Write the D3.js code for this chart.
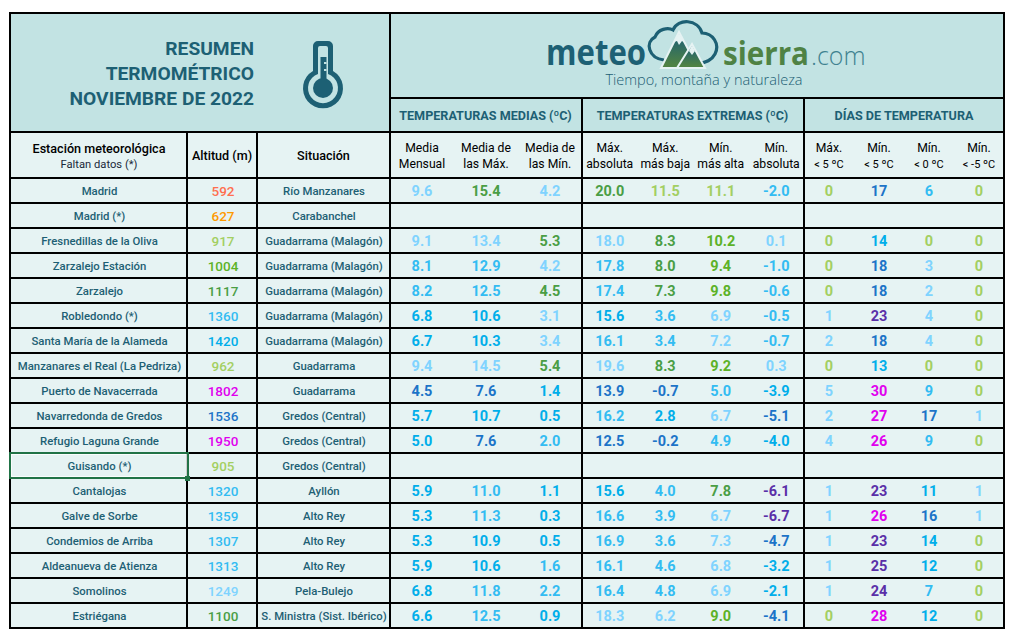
<!DOCTYPE html>
<html lang="es">
<head>
<meta charset="utf-8">
<title>Resumen termométrico noviembre 2022</title>
<script src="https://cdn.jsdelivr.net/npm/d3@7"></script>
<style>
  html, body { margin: 0; padding: 0; background: #fff; }
  svg { display: block; }
  text { font-family: Roboto, sans-serif; }
</style>
</head>
<body>
<div id="chart"></div>
<script>
// Data (null = no data for that station)
const stations = ["Madrid", "Madrid (*)", "Fresnedillas de la Oliva", "Zarzalejo Estación", "Zarzalejo", "Robledondo (*)",
  "Santa María de la Alameda", "Manzanares el Real (La Pedriza)", "Puerto de Navacerrada", "Navarredonda de Gredos",
  "Refugio Laguna Grande", "Guisando (*)", "Cantalojas", "Galve de Sorbe", "Condemios de Arriba", "Aldeanueva de Atienza",
  "Somolinos", "Estriégana"];
const altitudes = [592, 627, 917, 1004, 1117, 1360, 1420, 962, 1802, 1536, 1950, 905, 1320, 1359, 1307, 1313, 1249, 1100];
const zones = ["Río Manzanares", "Carabanchel", "Guadarrama (Malagón)", "Guadarrama (Malagón)", "Guadarrama (Malagón)",
  "Guadarrama (Malagón)", "Guadarrama (Malagón)", "Guadarrama", "Guadarrama", "Gredos (Central)", "Gredos (Central)",
  "Gredos (Central)", "Ayllón", "Alto Rey", "Alto Rey", "Alto Rey", "Pela-Bulejo", "S. Ministra (Sist. Ibérico)"];

const mediaMensual = [9.6, null, 9.1, 8.1, 8.2, 6.8, 6.7, 9.4, 4.5, 5.7, 5.0, null, 5.9, 5.3, 5.3, 5.9, 6.8, 6.6];
const mediaMax = [15.4, null, 13.4, 12.9, 12.5, 10.6, 10.3, 14.5, 7.6, 10.7, 7.6, null, 11.0, 11.3, 10.9, 10.6, 11.8, 12.5];
const mediaMin = [4.2, null, 5.3, 4.2, 4.5, 3.1, 3.4, 5.4, 1.4, 0.5, 2.0, null, 1.1, 0.3, 0.5, 1.6, 2.2, 0.9];
const maxAbsoluta = [20.0, null, 18.0, 17.8, 17.4, 15.6, 16.1, 19.6, 13.9, 16.2, 12.5, null, 15.6, 16.6, 16.9, 16.1, 16.4, 18.3];
const maxMasBaja = [11.5, null, 8.3, 8.0, 7.3, 3.6, 3.4, 8.3, -0.7, 2.8, -0.2, null, 4.0, 3.9, 3.6, 4.6, 4.8, 6.2];
const minMasAlta = [11.1, null, 10.2, 9.4, 9.8, 6.9, 7.2, 9.2, 5.0, 6.7, 4.9, null, 7.8, 6.7, 7.3, 6.8, 6.9, 9.0];
const minAbsoluta = [-2.0, null, 0.1, -1.0, -0.6, -0.5, -0.7, 0.3, -3.9, -5.1, -4.0, null, -6.1, -6.7, -4.7, -3.2, -2.1, -4.1];
const diasMax5 = [0, null, 0, 0, 0, 1, 2, 0, 5, 2, 4, null, 1, 1, 1, 1, 1, 0];
const diasMin5 = [17, null, 14, 18, 18, 23, 18, 13, 30, 27, 26, null, 23, 26, 23, 25, 24, 28];
const diasMin0 = [6, null, 0, 3, 2, 4, 4, 0, 9, 17, 9, null, 11, 16, 14, 12, 7, 12];
const diasMinM5 = [0, null, 0, 0, 0, 0, 0, 0, 0, 1, 0, null, 1, 1, 0, 0, 0, 0];

const sectionTitles = ["TEMPERATURAS MEDIAS (ºC)", "TEMPERATURAS EXTREMAS (ºC)", "DÍAS DE TEMPERATURA"];
const titleLines = ["RESUMEN", "TERMOMÉTRICO", "NOVIEMBRE DE 2022"];
const infoHeaders = ["Altitud (m)", "Situación"];

// Colours of the conditional formatting
const salmon = "#ff6f4f", orange = "#ff9a00", lime = "#a3cf62", olive = "#5cb227", green = "#4a9e45",
  pale = "#80d3ff", sky = "#33bcf2", cyan = "#00aeea", blue = "#1c74c8", violet = "#5a2fa8", magenta = "#e000ee";

const altitudeColor = d3.scaleThreshold()
  .domain([600, 800, 1000, 1100, 1200, 1300, 1400, 1500, 1700])
  .range([salmon, orange, lime, olive, green, pale, sky, cyan, blue, magenta]);

// one block per column: values, two header lines and its colour thresholds
const sections = [
  [
    { values: mediaMensual, top: "Media", bottom: "Mensual", color: d3.scaleThreshold().domain([5, 8, 9]).range([blue, cyan, sky, pale]) },
    { values: mediaMax, top: "Media de", bottom: "las Máx.", color: d3.scaleThreshold().domain([10, 11, 13, 15]).range([blue, cyan, sky, pale, green]) },
    { values: mediaMin, top: "Media de", bottom: "las Mín.", color: d3.scaleThreshold().domain([1.5, 3, 4.5]).range([cyan, sky, pale, green]) }
  ],
  [
    { values: maxAbsoluta, top: "Máx.", bottom: "absoluta", color: d3.scaleThreshold().domain([15, 16, 18, 20]).range([blue, cyan, sky, pale, green]) },
    { values: maxMasBaja, top: "Máx.", bottom: "más baja", color: d3.scaleThreshold().domain([0, 3, 5, 7, 10]).range([blue, cyan, sky, pale, green, lime]) },
    { values: minMasAlta, top: "Mín.", bottom: "más alta", color: d3.scaleThreshold().domain([6, 7.5, 8, 11]).range([sky, pale, green, olive, lime]) },
    { values: minAbsoluta, top: "Mín.", bottom: "absoluta", color: d3.scaleThreshold().domain([-6, -4, -2, 0]).range([violet, blue, cyan, sky, pale]) }
  ],
  [
    { values: diasMax5, top: "Máx.", bottom: "< 5 ºC", small: true, color: d3.scaleThreshold().domain([1]).range([lime, pale]) },
    { values: diasMin5, top: "Mín.", bottom: "< 5 ºC", small: true, color: d3.scaleThreshold().domain([15, 20, 26]).range([cyan, blue, violet, magenta]) },
    { values: diasMin0, top: "Mín.", bottom: "< 0 ºC", small: true, color: d3.scaleThreshold().domain([1, 5, 10, 15]).range([lime, pale, sky, cyan, blue]) },
    { values: diasMinM5, top: "Mín.", bottom: "< -5 ºC", small: true, color: d3.scaleThreshold().domain([1]).range([lime, pale]) }
  ]
];

// Layout
const width = 1014, height = 638;
const tableLeft = 10, tableRight = 1004, tableTop = 13, tableBottom = 628;
const logoBottom = 98, headBottom = 132, subBottom = 178;
const infoEdges = [tableLeft, 187, 257, 390];
const sectionEdges = [390, 582, 804, 1004];
const headBg = "#c2e3e3", rowBg = "#e6f3f3", ink = "#1d6074";

// plain hyphen for negatives, as in the spreadsheet
const oneDecimal = d3.formatLocale({ decimal: ".", thousands: "", grouping: [3], currency: ["", ""], minus: "-" }).format(".1f");

const svg = d3.select("#chart").append("svg")
  .attr("width", width)
  .attr("height", height);

const y = d3.scaleBand().domain(d3.range(stations.length)).range([subBottom, tableBottom]);

// Backgrounds
svg.append("rect").attr("x", tableLeft).attr("y", tableTop).attr("width", tableRight - tableLeft).attr("height", headBottom - tableTop).attr("fill", headBg);
svg.append("rect").attr("x", tableLeft).attr("y", headBottom).attr("width", tableRight - tableLeft).attr("height", tableBottom - headBottom).attr("fill", rowBg);

// Grid lines
const grid = svg.append("g").attr("stroke", "#000").attr("stroke-width", 2);
function gridLine(x1, y1, x2, y2) {
  grid.append("line").attr("x1", x1).attr("y1", y1).attr("x2", x2).attr("y2", y2);
}
gridLine(tableLeft - 1, tableTop, tableRight + 1, tableTop);
gridLine(390, logoBottom, tableRight, logoBottom);
gridLine(tableLeft, headBottom, tableRight, headBottom);
gridLine(tableLeft, subBottom, tableRight, subBottom);
y.domain().forEach(i => gridLine(tableLeft - 1, y(i) + y.bandwidth(), tableRight + 1, y(i) + y.bandwidth()));
gridLine(tableLeft, tableTop, tableLeft, tableBottom + 1);
gridLine(tableRight, tableTop, tableRight, tableBottom + 1);
gridLine(390, tableTop, 390, tableBottom);
infoEdges.slice(1, 3).forEach(x => gridLine(x, headBottom, x, tableBottom));
sectionEdges.slice(1, 3).forEach(x => gridLine(x, logoBottom, x, tableBottom));

// Selected cell (Guisando)
const selected = stations.indexOf("Guisando (*)");
svg.append("rect").attr("x", tableLeft + 1.5).attr("y", y(selected) + 1.5).attr("width", infoEdges[1] - tableLeft - 2).attr("height", y.bandwidth() - 3)
  .attr("fill", "none").attr("stroke", "#fff").attr("stroke-width", 0.8);
svg.append("rect").attr("x", tableLeft).attr("y", y(selected)).attr("width", infoEdges[1] - tableLeft + 1).attr("height", y.bandwidth())
  .attr("fill", "none").attr("stroke", "#217346").attr("stroke-width", 2);
svg.append("rect").attr("x", infoEdges[1] - 2).attr("y", y(selected) + y.bandwidth() - 2).attr("width", 5).attr("height", 5)
  .attr("fill", "#217346");

// Title block
svg.append("g").selectAll("text").data(titleLines).enter().append("text")
  .attr("x", 254)
  .attr("y", (d, i) => 55 + i * 25)
  .attr("text-anchor", "end")
  .attr("font-size", 19.2)
  .attr("font-weight", 700)
  .attr("fill", ink)
  .text(d => d);

// Thermometer icon
const thermo = svg.append("g").attr("transform", "translate(323,88)");
thermo.append("path")
  .attr("d", "M-10,-42 a5,5 0 0 1 5,-5 h10 a5,5 0 0 1 5,5 v25 a20,20 0 1 1 -20,0 z")
  .attr("fill", ink);
thermo.append("path")
  .attr("d", "M-5,-40 a2,2 0 0 1 2,-2 h6 a2,2 0 0 1 2,2 v26 a15,15 0 1 1 -10,0 z")
  .attr("fill", headBg);
thermo.append("circle").attr("r", 10).attr("fill", ink);
thermo.append("path").attr("d", "M-2.5,-31 h6 v25 h-6 z").attr("fill", ink);
thermo.append("path").attr("d", "M1,-26 h2.5 v2 h-2.5 z M1,-19 h2.5 v2 h-2.5 z").attr("fill", headBg);

// Logo
const defs = svg.append("defs");
const peak = defs.append("linearGradient").attr("id", "peak").attr("x1", 0).attr("y1", 0).attr("x2", 0).attr("y2", 1);
peak.append("stop").attr("offset", "10%").attr("stop-color", "#1d6074");
peak.append("stop").attr("offset", "90%").attr("stop-color", "#4f8244");

const logo = svg.append("g");
logo.append("path")
  .attr("d", "M664,60 C648,58 645,42 655,37 C658,29 668,27 673,30 C678,18 698,19 702,33 C713,33 720,44 715,54 C712,60 705,63 700,63")
  .attr("fill", "none").attr("stroke", ink).attr("stroke-width", 3.2);
logo.append("path").attr("d", "M679,32 L661,68 L698,68 Z").attr("fill", "url(#peak)").attr("stroke", "#e6f3f3").attr("stroke-width", 2);
logo.append("path").attr("d", "M692,44 L677,68 L705,68 Z").attr("fill", "url(#peak)").attr("stroke", "#e6f3f3").attr("stroke-width", 2);
logo.append("path").attr("d", "M679,33 L674,42 L677,41 L679,45 L682,41 L685,43 Z").attr("fill", "#e6f3f3");
logo.append("path").attr("d", "M692,45 L689,51 L692,55 L695,51 Z").attr("fill", "#e6f3f3");

svg.append("text").attr("x", 546).attr("y", 65).attr("font-size", 35).attr("font-weight", 700)
  .attr("textLength", 100).attr("lengthAdjust", "spacingAndGlyphs")
  .style("font-family", "'Open Sans', sans-serif").attr("fill", "#1d6074").text("meteo");
svg.append("text").attr("x", 723).attr("y", 65).attr("font-size", 33).attr("font-weight", 700)
  .attr("textLength", 86).attr("lengthAdjust", "spacingAndGlyphs")
  .style("font-family", "'Open Sans', sans-serif").attr("fill", "#4f8244").text("sierra");
svg.append("text").attr("x", 811).attr("y", 65).attr("font-size", 25).attr("font-weight", 300)
  .style("font-family", "'Open Sans', sans-serif").attr("fill", "#3f8290").text(".com");
svg.append("text").attr("x", 704).attr("y", 85).attr("text-anchor", "middle").attr("font-size", 14.5).attr("font-weight", 300)
  .style("font-family", "'Open Sans', sans-serif").attr("fill", "#1d6074").text("Tiempo, montaña y naturaleza");

// Section titles
svg.append("g").selectAll("text").data(sectionTitles).enter().append("text")
  .attr("x", (d, i) => (sectionEdges[i] + sectionEdges[i + 1]) / 2 + (i === 2 ? 0 : -0.5))
  .attr("y", 119.5)
  .attr("text-anchor", "middle")
  .attr("font-size", 12.6)
  .attr("font-weight", 700)
  .attr("fill", ink)
  .text(d => d);

// Station / altitude / zone headers
const headMid = (headBottom + subBottom) / 2;
svg.append("text").attr("x", (infoEdges[0] + infoEdges[1]) / 2 + 0.5).attr("y", 153).attr("text-anchor", "middle")
  .attr("font-size", 12.6).attr("font-weight", 500).attr("fill", "#000").text("Estación meteorológica");
svg.append("text").attr("x", (infoEdges[0] + infoEdges[1]) / 2 + 0.5).attr("y", 168).attr("text-anchor", "middle")
  .attr("font-size", 11.2).attr("fill", "#1a2a3a").text("Faltan datos (*)");
svg.append("g").selectAll("text").data(infoHeaders).enter().append("text")
  .attr("x", (d, i) => (infoEdges[i + 1] + infoEdges[i + 2]) / 2)
  .attr("y", headMid + 5)
  .attr("text-anchor", "middle")
  .attr("font-size", 12.6)
  .attr("font-weight", 500)
  .attr("fill", "#000")
  .text(d => d);

// Station rows
function infoColumn(values, xMid, weight) {
  svg.append("g").selectAll("text").data(values).enter().append("text")
    .attr("x", xMid)
    .attr("y", (d, i) => y(i) + y.bandwidth() / 2 + 4)
    .attr("text-anchor", "middle")
    .attr("font-size", 11.35)
    .attr("font-weight", weight)
    .attr("fill", ink)
    .text(d => d);
}
infoColumn(stations, (infoEdges[0] + infoEdges[1]) / 2 + 1, 500);
infoColumn(zones, (infoEdges[2] + infoEdges[3]) / 2 + 0.5, 500);

svg.append("g").selectAll("text").data(altitudes).enter().append("text")
  .attr("x", (infoEdges[1] + infoEdges[2]) / 2 + 1)
  .attr("y", (d, i) => y(i) + y.bandwidth() / 2 + 5)
  .attr("text-anchor", "middle")
  .attr("font-size", 13.5)
  .attr("font-weight", 500)
  .attr("fill", d => altitudeColor(d))
  .text(d => d);

// Value columns
sections.forEach((columns, s) => {
  const x = d3.scaleBand().domain(d3.range(columns.length)).range([sectionEdges[s], sectionEdges[s + 1]]);
  const isDays = s === 2;

  columns.forEach((col, c) => {
    const xMid = x(c) + x.bandwidth() / 2;
    const g = svg.append("g");

    g.append("text").attr("x", xMid).attr("y", 152).attr("text-anchor", "middle")
      .attr("font-size", 12.2).attr("fill", "#000").text(col.top);
    g.append("text").attr("x", xMid).attr("y", 168).attr("text-anchor", "middle")
      .attr("font-size", col.small ? 11 : 12.2).attr("fill", "#000").text(col.bottom);

    g.selectAll("text.value")
      .data(col.values.map((v, i) => ({ v: v, i: i })).filter(d => d.v !== null))
      .enter().append("text")
      .attr("class", "value")
      .attr("x", xMid)
      .attr("y", d => y(d.i) + y.bandwidth() / 2 + 5)
      .attr("text-anchor", "middle")
      .attr("font-size", 14.5)
      .attr("font-weight", 700)
      .attr("fill", d => col.color(d.v))
      .text(d => isDays ? d3.format("d")(d.v) : oneDecimal(d.v));
  });
});
</script>
</body>
</html>
